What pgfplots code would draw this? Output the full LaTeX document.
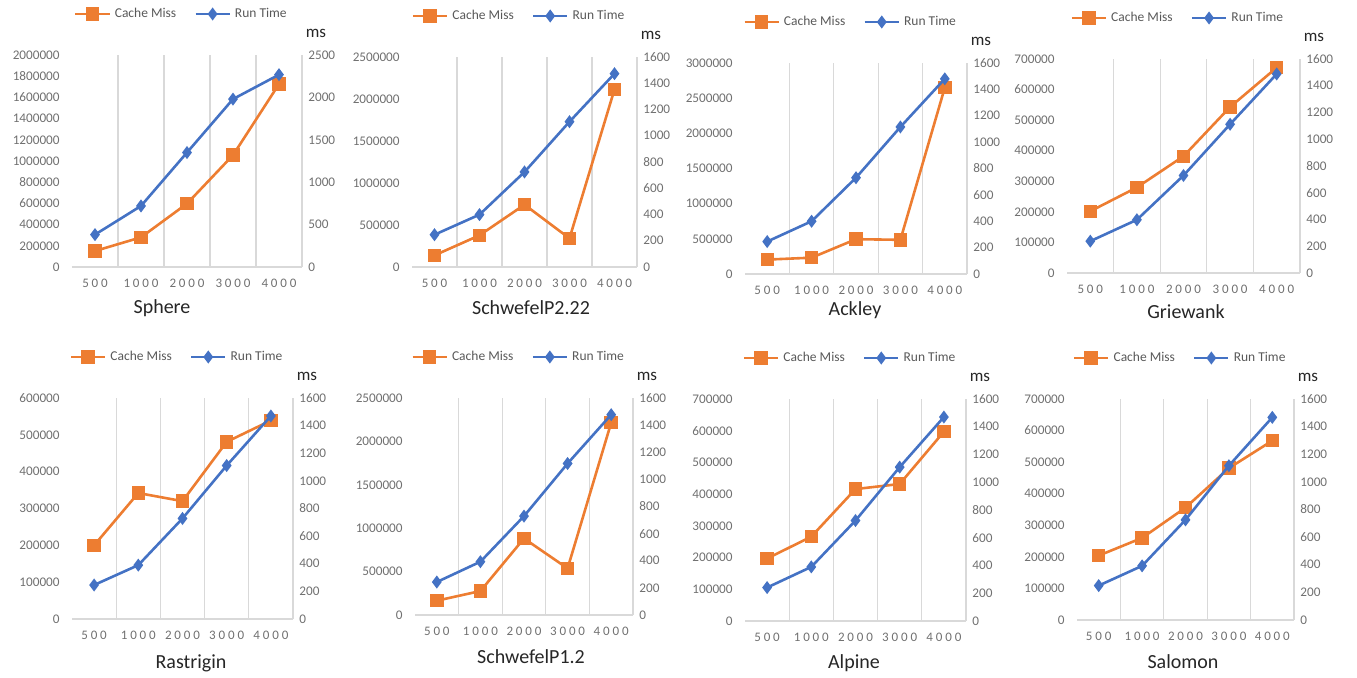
\documentclass[border=0pt]{standalone}
\usepackage{fontspec}
\setmainfont{Carlito}
\newfontfamily\xtickfont[LetterSpace=22]{Carlito}
\usepackage{pgfplots}
\pgfplotsset{compat=1.18}
\definecolor{cmiss}{HTML}{ED7D31}
\definecolor{rtime}{HTML}{4472C4}
\definecolor{tickc}{HTML}{707070}
\definecolor{gridc}{HTML}{D9D9D9}
\definecolor{legc}{HTML}{595959}
\definecolor{titc}{HTML}{262626}

\pgfplotsset{
  cachestyle/.style={cmiss, line width=1.3pt, mark=square*, mark size=2.7pt, mark options={solid, fill=cmiss}},
  runstyle/.style={rtime, line width=1.3pt, mark=diamond*, mark size=2.2pt, mark options={solid, fill=rtime}},
  base/.style={scale only axis, anchor=south west, xmin=-0.5, xmax=4.5, ymin=0,
    xtick={0,1,2,3,4}, xticklabels={500,1000,2000,3000,4000},
    major tick length=0pt, minor tick length=0pt,
    scaled y ticks=false,
    /pgf/number format/assume math mode=true,
    yticklabel style={/pgf/number format/fixed, /pgf/number format/precision=0, /pgf/number format/1000 sep={}},
    ticklabel style={font=\fontsize{6.6}{7}\selectfont, text=tickc},
    clip=false},
}

% #1 x0, #2 x1, #3 ytop, #4 ybot (pixels), #5 left opts, #6 right opts, #7 cache, #8 run
\newcommand{\panel}[8]{%
  \pgfmathsetlengthmacro\xa{#1*0.5pt}%
  \pgfmathsetlengthmacro\yb{(677-#4)*0.5pt}%
  \pgfmathsetlengthmacro\pw{(#2-#1)*0.5pt}%
  \pgfmathsetlengthmacro\ph{(#4-#3)*0.5pt}%
  \pgfmathsetlengthmacro\msx{(#2+14)*0.5pt}%
  \pgfmathsetlengthmacro\msy{(677-#3+22)*0.5pt}%
  \begin{axis}[base, width=\pw, height=\ph, at={(\xa,\yb)}, #5,
    axis x line*=bottom, axis y line*=left,
    y axis line style={draw=none},
    x axis line style={draw=gridc, line width=0.6pt},
    minor xtick={0.5,1.5,2.5,3.5}, xminorgrids=true,
    minor grid style={draw=gridc, line width=0.6pt},
    yticklabel style={inner sep=0pt, xshift=-6pt},
    xticklabel style={inner sep=0pt, anchor=center, yshift=-8pt, font=\xtickfont\fontsize{6.5}{7}\selectfont}]
    \addplot[cachestyle] coordinates {#7};
  \end{axis}
  \begin{axis}[base, width=\pw, height=\ph, at={(\xa,\yb)}, #6,
    xtick=\empty,
    axis y line*=right, axis x line=none,
    y axis line style={draw=gridc, line width=0.6pt},
    yticklabel style={inner sep=0pt, xshift=3pt, anchor=west},
    legend columns=2,
    legend style={at={(0.48,1)}, anchor=center, yshift=20.5pt, draw=none, fill=none,
      font=\fontsize{6.75}{8}\selectfont, text=legc,
      /tikz/every even column/.append style={column sep=7pt}}]
    \addlegendimage{cachestyle}\addlegendentry{Cache Miss}
    \addplot[runstyle] coordinates {#8};\addlegendentry{Run Time}
  \end{axis}
  \node[font=\fontsize{8.5}{10}\selectfont, text=titc] at (\msx,\msy) {ms};
}

\newcommand{\ptitle}[3]{\node[font=\fontsize{10}{12}\selectfont, text=titc] at ({#1*0.5pt},{(677-#2)*0.5pt}) {#3};}

\begin{document}
\begin{tikzpicture}
\useasboundingbox (0,0) rectangle (678.5pt,338.5pt);

% Sphere
\panel{72}{302}{55}{267}{ymax=2000000, ytick distance=200000}{ymax=2500, ytick distance=500}
{(0,151000) (1,280000) (2,598000) (3,1055000) (4,1726000)}
{(0,382) (1,720) (2,1350) (3,1980) (4,2268)}
\ptitle{162}{308}{Sphere}

% SchwefelP2.22
\panel{412}{637}{57}{267}{ymax=2500000, ytick distance=500000}{ymax=1600, ytick distance=200}
{(0,139000) (1,377000) (2,742000) (3,341000) (4,2115000)}
{(0,246) (1,399) (2,724) (3,1107) (4,1473)}
\ptitle{531}{308}{SchwefelP2.22}

% Ackley
\panel{745}{967}{63}{274}{ymax=3000000, ytick distance=500000}{ymax=1600, ytick distance=200}
{(0,205000) (1,232000) (2,495000) (3,486000) (4,2650000)}
{(0,246) (1,400) (2,730) (3,1115) (4,1480)}
\ptitle{855}{310}{Ackley}

% Griewank
\panel{1067}{1300}{59}{273}{ymax=700000, ytick distance=100000}{ymax=1600, ytick distance=200}
{(0,202000) (1,280000) (2,382000) (3,543000) (4,672000)}
{(0,238) (1,398) (2,729) (3,1112) (4,1488)}
\ptitle{1186}{312}{Griewank}

% Rastrigin
\panel{72}{293}{398}{619}{ymax=600000, ytick distance=100000}{ymax=1600, ytick distance=200}
{(0,200000) (1,342000) (2,320000) (3,481000) (4,539000)}
{(0,246) (1,390) (2,728) (3,1111) (4,1470)}
\ptitle{191}{663}{Rastrigin}

% SchwefelP1.2
\panel{415}{633}{398}{615}{ymax=2500000, ytick distance=500000}{ymax=1600, ytick distance=200}
{(0,165000) (1,276000) (2,882000) (3,537000) (4,2216000)}
{(0,243) (1,393) (2,729) (3,1117) (4,1477)}
\ptitle{531}{657}{SchwefelP1.2}

% Alpine
\panel{745}{966}{399}{621}{ymax=700000, ytick distance=100000}{ymax=1600, ytick distance=200}
{(0,197000) (1,266000) (2,416000) (3,432000) (4,597000)}
{(0,241) (1,390) (2,724) (3,1109) (4,1470)}
\ptitle{854}{663}{Alpine}

% Salomon
\panel{1077}{1294}{399}{620}{ymax=700000, ytick distance=100000}{ymax=1600, ytick distance=200}
{(0,204000) (1,260000) (2,356000) (3,481000) (4,568000)}
{(0,249) (1,392) (2,725) (3,1117) (4,1467)}
\ptitle{1183}{662}{Salomon}

\end{tikzpicture}
\end{document}
